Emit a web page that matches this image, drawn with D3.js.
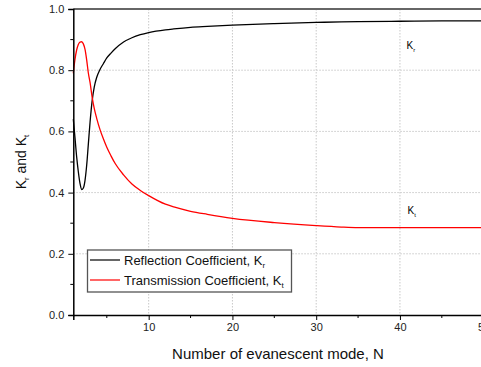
<!DOCTYPE html>
<html><head><meta charset="utf-8">
<script src="https://cdn.jsdelivr.net/npm/d3@7"></script>
<style>body{margin:0;background:#fff}svg{display:block}text{font-family:"Liberation Sans",Arial,sans-serif}</style>
</head><body>
<svg id="c" width="481" height="367"></svg>
<script>
// Data
const nValues = [1,1.2,1.4,1.6,1.8,2.0,2.2,2.4,2.6,2.8,3.0,3.25,3.5,3.8,4.2,4.6,5,5.5,6,7,8,9,10,12,13,15,17,20,25,30,33,35,40,45,50];
const reflection = [0.64,0.58,0.517,0.468,0.43,0.41,0.415,0.44,0.49,0.56,0.63,0.70,0.745,0.777,0.803,0.822,0.84,0.856,0.87,0.892,0.906,0.916,0.923,0.932,0.935,0.94,0.943,0.947,0.952,0.956,0.958,0.959,0.96,0.961,0.961];
const transmission = [0.79,0.835,0.866,0.884,0.892,0.893,0.886,0.868,0.833,0.79,0.76,0.712,0.675,0.642,0.605,0.575,0.548,0.52,0.495,0.458,0.428,0.407,0.39,0.362,0.353,0.339,0.329,0.316,0.302,0.292,0.2875,0.2858,0.2855,0.2855,0.2855];
const xTicks = [10,20,30,40,50];
const yTicks = [0.0,0.2,0.4,0.6,0.8,1.0];
const legendLabels = [["Reflection Coefficient, K","r"],["Transmission Coefficient, K","t"]];
const colors = ["#000000","#ff0000"];

const svg = d3.select("#c");
const L = 73.3, R = 483.7, T = 9, B = 315;
const x = d3.scaleLinear().domain([1,50]).range([L,R]);
const y = d3.scaleLinear().domain([0,1]).range([B,T]);

// grid
const g = svg.append("g");
g.selectAll(".gx").data(xTicks.filter(d=>d<50)).enter().append("line")
  .attr("x1",d=>x(d)).attr("x2",d=>x(d)).attr("y1",T).attr("y2",B)
  .attr("stroke","#c8c8c8").attr("stroke-width",1).attr("stroke-dasharray","1.5,1.5");
g.selectAll(".gy").data(yTicks.filter(d=>d>0&&d<1)).enter().append("line")
  .attr("x1",L).attr("x2",R).attr("y1",d=>y(d)).attr("y2",d=>y(d))
  .attr("stroke","#c8c8c8").attr("stroke-width",1).attr("stroke-dasharray","1.5,1.5");

// curves
const line = vals => d3.line().x((d,i)=>x(nValues[i])).y(d=>y(d)).curve(d3.curveMonotoneX)(vals);
svg.append("path").attr("d",line(reflection)).attr("fill","none").attr("stroke",colors[0]).attr("stroke-width",1.3);
svg.append("path").attr("d",line(transmission)).attr("fill","none").attr("stroke",colors[1]).attr("stroke-width",1.3);

// top frame line
svg.append("line").attr("x1",L).attr("x2",R).attr("y1",T).attr("y2",T).attr("stroke","#666").attr("stroke-width",2);

// axes
const xAxis = d3.axisBottom(x).tickValues(xTicks).tickSize(5).tickPadding(3).tickFormat(d3.format("d"));
const ax = svg.append("g").attr("transform",`translate(0,${B})`).call(xAxis);
ax.select(".domain").attr("stroke","#000").attr("stroke-width",1.5);
ax.selectAll("text").attr("font-size",11).attr("fill","#222");
svg.append("g").selectAll("line").data(d3.range(5,50,10)).enter().append("line")
  .attr("x1",d=>x(d)).attr("x2",d=>x(d)).attr("y1",B).attr("y2",B+3).attr("stroke","#000");

const yAxis = d3.axisLeft(y).tickValues(yTicks).tickSize(5).tickPadding(4).tickFormat(d3.format(".1f"));
const ay = svg.append("g").attr("transform",`translate(${L},0)`).call(yAxis);
ay.select(".domain").attr("stroke","#000").attr("stroke-width",1.5);
ay.selectAll("text").attr("font-size",11).attr("fill","#222");
svg.append("g").selectAll("line").data(d3.range(0.1,1,0.2)).enter().append("line")
  .attr("x1",L-3).attr("x2",L).attr("y1",d=>y(d)).attr("y2",d=>y(d)).attr("stroke","#000");

// axis titles
svg.append("text").attr("x",278).attr("y",359).attr("text-anchor","middle").attr("font-size",15).attr("fill","#111")
  .text("Number of evanescent mode, N");
const yt = svg.append("text").attr("transform","translate(26,162) rotate(-90)").attr("text-anchor","middle").attr("font-size",14).attr("fill","#111");
yt.append("tspan").text("K");
yt.append("tspan").attr("font-size",8).attr("dy",3).text("r");
yt.append("tspan").attr("dy",-3).text(" and K");
yt.append("tspan").attr("font-size",8).attr("dy",3).text("t");

// legend
const lg = svg.append("g");
lg.append("rect").attr("x",87.5).attr("y",250).attr("width",204).attr("height",42).attr("fill","#fff").attr("stroke","#555").attr("stroke-width",1.3);
legendLabels.forEach((lab,i)=>{
  const yy = 260 + i*20;
  lg.append("line").attr("x1",90).attr("x2",120).attr("y1",yy).attr("y2",yy).attr("stroke",colors[i]).attr("stroke-width",1.2);
  const t = lg.append("text").attr("x",124).attr("y",yy+5).attr("font-size",13).attr("fill","#111");
  t.append("tspan").text(lab[0]);
  t.append("tspan").attr("font-size",8).attr("dy",3).text(lab[1]);
});

// curve annotations
const annSubs = ["r","t"];
const annPos = [[406.5,49],[407.5,214]];
annSubs.forEach((s,i)=>{
  const t = svg.append("text").attr("x",annPos[i][0]).attr("y",annPos[i][1]).attr("font-size",10).attr("fill","#000");
  t.append("tspan").text("K");
  t.append("tspan").attr("font-size",6).attr("dy",3).text(s);
});
</script>
</body></html>
